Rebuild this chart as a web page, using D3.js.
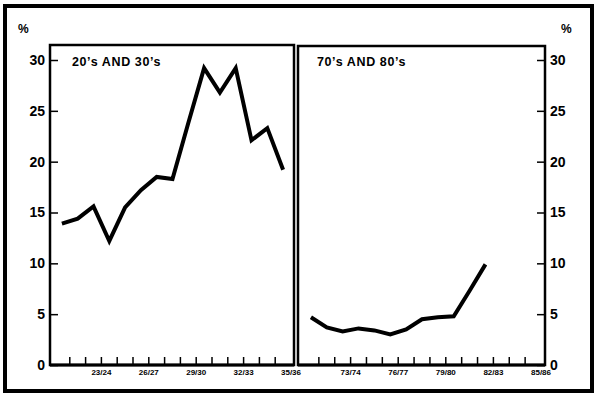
<!DOCTYPE html>
<html>
<head>
<meta charset="utf-8">
<script src="https://cdn.jsdelivr.net/npm/d3@7"></script>
<style>
  html, body { margin: 0; padding: 0; background: #fff; }
  svg { display: block; font-family: "Liberation Sans", Arial, Helvetica, sans-serif; }
</style>
</head>
<body>
<svg id="chart" width="600" height="400"></svg>
<script>
// ---- data ----
const leftYears = ["21/22","22/23","23/24","24/25","25/26","26/27","27/28","28/29","29/30","30/31","31/32","32/33","33/34","34/35","35/36"];
const leftValues = [13.9, 14.4, 15.6, 12.2, 15.5, 17.2, 18.5, 18.3, 23.8, 29.2, 26.8, 29.2, 22.1, 23.3, 19.2];
const rightYears = ["71/72","72/73","73/74","74/75","75/76","76/77","77/78","78/79","79/80","80/81","81/82","82/83","83/84","84/85","85/86"];
const rightValues = [4.7, 3.7, 3.3, 3.6, 3.4, 3.0, 3.5, 4.5, 4.7, 4.8, 7.3, 9.9];
const leftLabels = ["23/24","26/27","29/30","32/33","35/36"];
const rightLabels = ["73/74","76/77","79/80","82/83","85/86"];
const yTicks = [0, 5, 10, 15, 20, 25, 30];
const leftTitle = "20\u2019s AND 30\u2019s";
const rightTitle = "70\u2019s AND 80\u2019s";

const svg = d3.select("#chart");

// outer frame
svg.append("rect").attr("x", 5).attr("y", 6).attr("width", 587).attr("height", 385)
  .attr("fill", "none").attr("stroke", "#000").attr("stroke-width", 4);

const y = d3.scaleLinear().domain([0, 30]).range([365, 60]);

function panel(opts) {
  const g = svg.append("g");
  const x = d3.scaleBand().domain(opts.years).range(opts.xr).paddingInner(0).paddingOuter(0);
  // panel box
  g.append("rect").attr("x", opts.box[0]).attr("y", opts.box[1])
    .attr("width", opts.box[2] - opts.box[0]).attr("height", y(0) - opts.box[1])
    .attr("fill", "none").attr("stroke", "#000").attr("stroke-width", 2.5);
  // y axis
  const ax = (opts.side === "left" ? d3.axisLeft(y) : d3.axisRight(y))
    .tickValues(yTicks).tickSize(-8).tickPadding(opts.side === "left" ? 5 : 5).tickFormat(d3.format("d"));
  const ya = g.append("g").attr("transform", `translate(${opts.side === "left" ? opts.box[0] : opts.box[2]},0)`).call(ax);
  ya.select(".domain").remove();
  ya.selectAll("line").attr("stroke", "#000").attr("stroke-width", 1.5);
  ya.selectAll("text").attr("font-size", 14).attr("font-weight", "bold").attr("fill", "#000");
  // x tick marks at band boundaries
  g.append("g").selectAll("line").data(opts.years.slice(1)).join("line")
    .attr("x1", d => x(d)).attr("x2", d => x(d))
    .attr("y1", y(0)).attr("y2", y(0) - 8)
    .attr("stroke", "#000").attr("stroke-width", 1.5);
  // x labels
  const xa = g.append("g").attr("transform", `translate(${x.bandwidth() / 2},${y(0)})`)
    .call(d3.axisBottom(x).tickValues(opts.labels).tickSize(0).tickPadding(4));
  xa.select(".domain").remove();
  xa.selectAll("text").attr("font-size", 8).attr("font-weight", "bold").attr("fill", "#000");
  // baseline
  g.append("line").attr("x1", opts.box[0]).attr("x2", opts.box[2]).attr("y1", y(0)).attr("y2", y(0))
    .attr("stroke", "#000").attr("stroke-width", 3);
  // line
  const line = d3.line()
    .x((d, i) => x(opts.years[i]) + x.bandwidth() / 2)
    .y(d => y(d));
  g.append("path").datum(opts.values).attr("d", line)
    .attr("fill", "none").attr("stroke", "#000").attr("stroke-width", 4)
    .attr("stroke-linejoin", "miter").attr("stroke-linecap", "butt");
  // title
  g.append("text").attr("x", opts.titleX).attr("y", 66).text(opts.title)
    .attr("font-size", 12.5).attr("font-weight", "bold").attr("letter-spacing", 0.6).attr("fill", "#000");
  // percent sign
  g.append("text").attr("x", opts.pctX).attr("y", 33).text("%")
    .attr("font-size", 12).attr("font-weight", "bold").attr("fill", "#000");
}

panel({ years: leftYears, values: leftValues, labels: leftLabels, xr: [54, 291], box: [50, 45, 294],
  side: "left", title: leftTitle, titleX: 72, pctX: 18 });
panel({ years: rightYears, values: rightValues, labels: rightLabels, xr: [303, 541], box: [298, 46, 545],
  side: "right", title: rightTitle, titleX: 317, pctX: 561 });
</script>
</body>
</html>
